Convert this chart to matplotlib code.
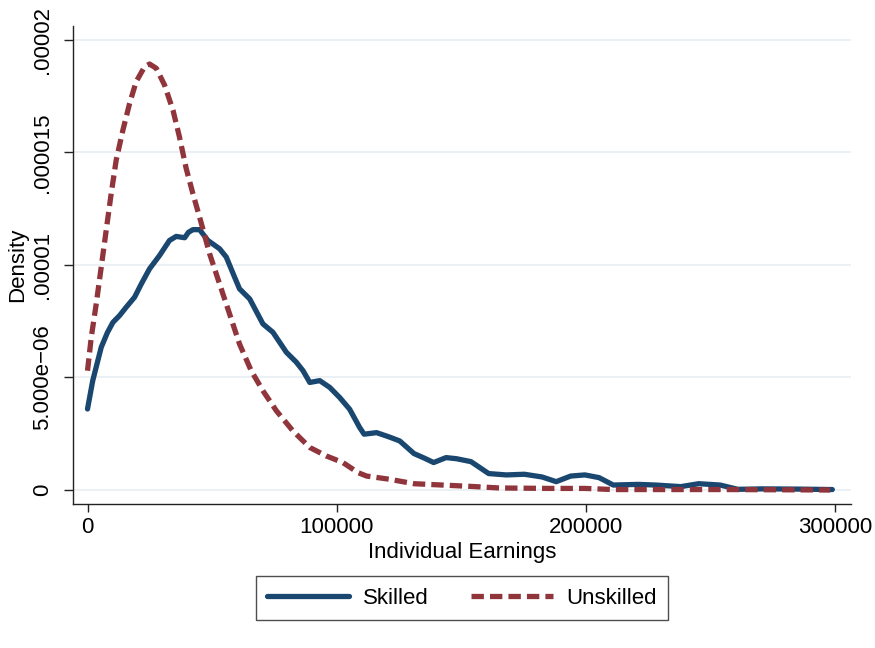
import matplotlib
matplotlib.use("Agg")
import matplotlib.pyplot as plt

# ---- data ----
skilled_x = [0, 2100, 5500, 8000, 10200, 12850, 15500, 18900, 21600, 24900, 28900, 32900,
             35600, 39000, 40500, 42300, 45000, 48300, 53000, 55700, 58500, 61000, 65100,
             70400, 74400, 79800, 83800, 86500, 89200, 93200, 97200, 101200, 105200, 109200,
             111000, 116000, 121000, 125300, 131000, 135300, 138900, 143900, 148100, 153900,
             161000, 168100, 175300, 182400, 188100, 193900, 199600, 205300, 211000, 221000,
             228100, 238100, 245300, 253900, 261000, 271000, 285000, 298900]
skilled_y = [3.6, 4.86, 6.34, 7.0, 7.45, 7.75, 8.12, 8.57, 9.16, 9.83, 10.42, 11.09,
             11.27, 11.21, 11.45, 11.57, 11.57, 11.09, 10.72, 10.35, 9.6, 8.94, 8.49,
             7.38, 7.01, 6.12, 5.68, 5.3, 4.78, 4.86, 4.56, 4.11, 3.59, 2.78,
             2.48, 2.55, 2.36, 2.18, 1.62, 1.41, 1.22, 1.44, 1.39, 1.26,
             0.73, 0.67, 0.70, 0.58, 0.37, 0.62, 0.67, 0.55, 0.22, 0.25,
             0.22, 0.15, 0.28, 0.22, 0.03, 0.05, 0.04, 0.02]

unskilled_x = [0, 1500, 3500, 5500, 7500, 9500, 11500, 14200, 16900, 19500, 22900, 24900,
               27600, 30900, 34300, 36900, 39600, 42300, 45700, 49000, 53000, 57000, 61000,
               65700, 70400, 75800, 82400, 89200, 95900, 102500, 108600, 112000, 121000,
               131000, 142400, 153900, 165300, 185300, 199600, 211000, 228000, 256700, 298000]
unskilled_y = [5.30, 6.78, 8.27, 9.90, 11.54, 13.17, 14.65, 15.99, 17.18, 18.14, 18.81, 18.93,
               18.74, 18.0, 16.88, 15.69, 14.29, 13.17, 11.84, 10.50, 9.16, 7.83, 6.49,
               5.30, 4.41, 3.52, 2.63, 1.89, 1.51, 1.22, 0.77, 0.62, 0.48,
               0.28, 0.22, 0.16, 0.09, 0.07, 0.07, 0.02, 0.02, 0.02, 0.0]

x_ticks = [0, 100000, 200000, 300000]
x_tick_labels = ["0", "100000", "200000", "300000"]
y_ticks = [0, 5e-6, 1e-5, 1.5e-5, 2e-5]
y_tick_labels = ["0", "5.000e\u221206", ".00001", ".000015", ".00002"]
series_labels = ["Skilled", "Unskilled"]
x_title = "Individual Earnings"
y_title = "Density"

# ---- style ----
plt.rcParams['font.family'] = ['Liberation Sans', 'DejaVu Sans']
FS = 16
navy = "#1a476f"
maroon = "#90353b"

fig = plt.figure(figsize=(8.75, 6.48), dpi=100)
ax = fig.add_axes([73.3 / 875, 1 - 504 / 648, (851 - 73.3) / 875, (504 - 26) / 648])

sx = list(skilled_x)
sy = [v * 1e-6 for v in skilled_y]
ux = list(unskilled_x)
uy = [v * 1e-6 for v in unskilled_y]

lw = 3.8
l1, = ax.plot(sx, sy, color=navy, lw=lw, solid_capstyle='round', solid_joinstyle='round',
              label=series_labels[0], zorder=3)
l2, = ax.plot(ux, uy, color=maroon, lw=lw, linestyle=(0, (2.35, 1.15)), dash_capstyle='butt',
              label=series_labels[1], zorder=3)

ax.set_xlim(-5700, 306400)
ax.set_ylim(-0.622e-6, 20.62e-6)

ax.set_xticks(x_ticks)
ax.set_xticklabels(x_tick_labels, fontsize=FS)
ax.set_yticks(y_ticks)
ax.set_yticklabels(y_tick_labels, fontsize=FS, rotation=90, va='center')

ax.grid(axis='y', color='#e8eff2', lw=1.3, zorder=0)
ax.set_axisbelow(True)

for s in ['top', 'right']:
    ax.spines[s].set_visible(False)
for s in ['left', 'bottom']:
    ax.spines[s].set_color('#222222')
    ax.spines[s].set_linewidth(1.0)

ax.tick_params(axis='x', length=6, width=1.0, pad=3.5, color='#222222')
ax.tick_params(axis='y', length=6.5, width=1.0, pad=8, color='#222222')

ax.set_xlabel(x_title, fontsize=FS, labelpad=3)
ax.set_ylabel(y_title, fontsize=FS, labelpad=3)

leg = fig.legend(handles=[l1, l2], labels=series_labels, loc='center',
                 bbox_to_anchor=(462 / 875, 1 - 598 / 648), ncol=2, fontsize=FS,
                 frameon=True, fancybox=False, edgecolor='#222222',
                 handlelength=3.7, handletextpad=0.6, columnspacing=1.9,
                 borderpad=0.5, borderaxespad=0)
leg.get_frame().set_linewidth(1.0)

fig.savefig("out.png", dpi=100)
